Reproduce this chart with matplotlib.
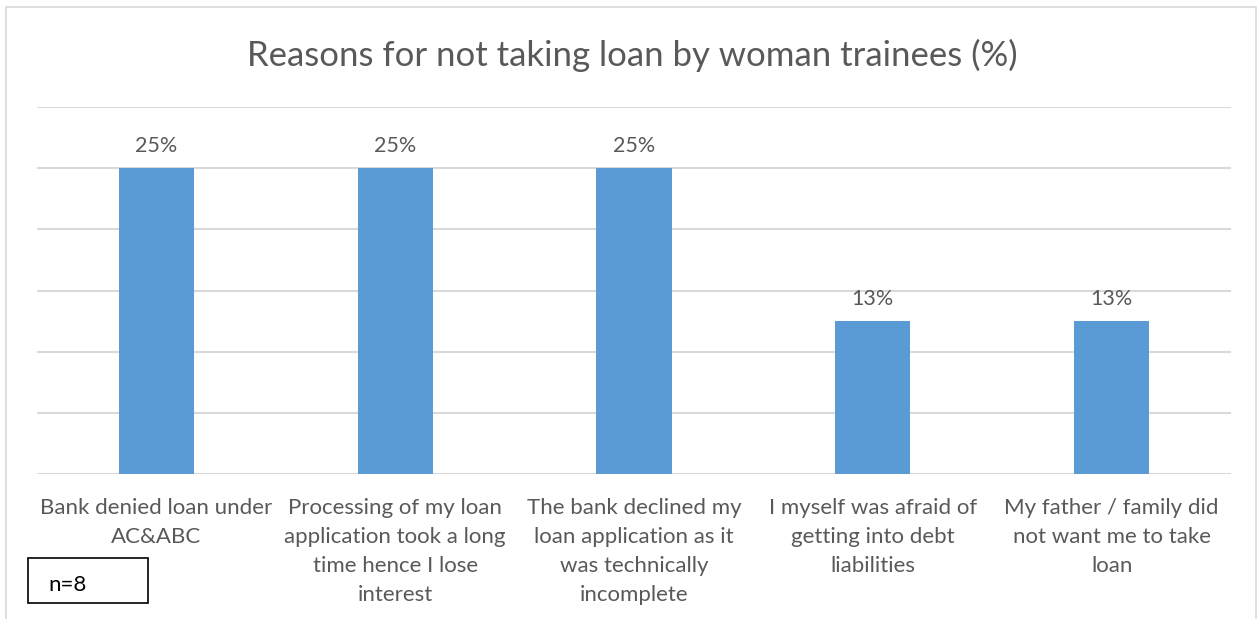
import matplotlib
matplotlib.use("Agg")
import matplotlib.pyplot as plt
from matplotlib.patches import Rectangle

reasons = [
    "Bank denied loan under\nAC&ABC",
    "Processing of my loan\napplication took a long\ntime hence I lose\ninterest",
    "The bank declined my\nloan application as it\nwas technically\nincomplete",
    "I myself was afraid of\ngetting into debt\nliabilities",
    "My father / family did\nnot want me to take\nloan",
]
share_pct = [25.0, 25.0, 25.0, 12.5, 12.5]
sample_note = "n=8"
title = "Reasons for not taking loan by woman trainees (%)"

TEXT = "#595959"
GRID = "#D9D9D9"
BAR = "#5B9BD5"
FONT = ["Lato", "DejaVu Sans"]

fig = plt.figure(figsize=(12.6, 6.19), dpi=100)
W, H = 1260, 619

# light frame around the whole chart (bottom edge runs off the page)
fig.patches.append(Rectangle((6 / W, -0.05), 1250 / W, 1.05 - 7 / H,
                             transform=fig.transFigure, fill=False,
                             ec=GRID, lw=1.2))

ax = fig.add_axes([37 / W, 145 / H, 1194 / W, 367 / H])
x = range(len(reasons))
bars = ax.bar(x, share_pct, width=0.315, color=BAR, zorder=3)
ax.set_xlim(-0.5, len(reasons) - 0.5)
ax.set_ylim(0, 30)
ax.set_yticks(range(0, 31, 5))
ax.yaxis.grid(True, color=GRID, lw=1.5, zorder=0)
ax.tick_params(axis="y", left=False, labelleft=False)
ax.tick_params(axis="x", length=0, pad=17.5)
for s in ax.spines.values():
    s.set_visible(False)

ax.set_xticks(list(x))
ax.set_xticklabels(reasons, fontsize=16, color=TEXT, family=FONT,
                   linespacing=1.55, va="top")

for b, v in zip(bars, share_pct):
    ax.annotate(f"{int(v + 0.5)}%", (b.get_x() + b.get_width() / 2, v),
                xytext=(0, 9), textcoords="offset points", ha="center",
                va="bottom", fontsize=15.5, color=TEXT, family=FONT)

fig.text(632 / W, 1 - 55 / H, title, ha="center", va="center",
         fontsize=25, color=TEXT, family=FONT)

# sample size box in the lower left corner
fig.patches.append(Rectangle((28 / W, 1 - 603 / H), 120 / W, 45 / H,
                             transform=fig.transFigure, fill=False,
                             ec="black", lw=1.2))
fig.text(48 / W, 1 - 585 / H, sample_note, ha="left", va="center",
         fontsize=16, color="black", family=FONT)

fig.savefig("out.png", dpi=100)
